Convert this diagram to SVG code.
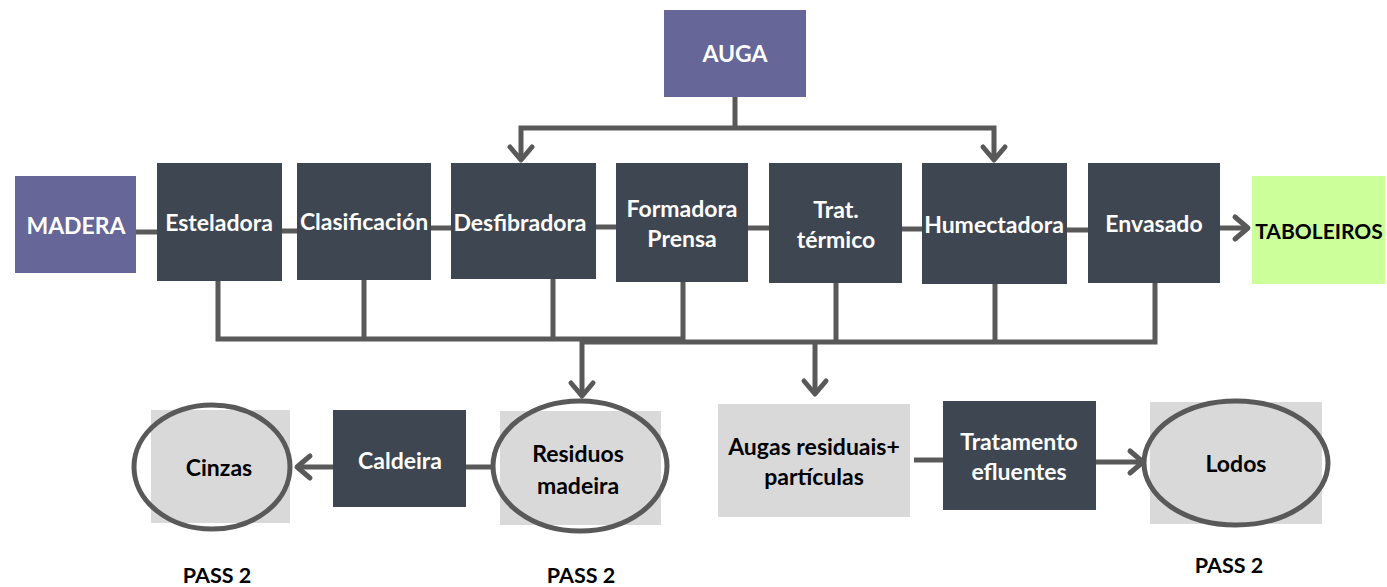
<svg xmlns="http://www.w3.org/2000/svg" width="1387" height="587" viewBox="0 0 1387 587">
  <style>
    .dark { fill: #3e4651; }
    .purple { fill: #666699; }
    .green { fill: #ccff99; }
    .grey { fill: #d9d9d9; }
    .ring { fill: none; stroke: #595959; stroke-width: 5; }
    .wire { fill: none; stroke: #595959; stroke-width: 5; stroke-linejoin: miter; }
    .arrow { marker-end: url(#chev); }
    text { font-family: Lato, "Liberation Sans", sans-serif; font-weight: bold; font-size: 23px; text-anchor: middle; dominant-baseline: central; }
    .w { fill: #ffffff; }
    .k { fill: #000000; }
    .pass { font-size: 21.5px; }
  </style>
  <defs>
    <marker id="chev" markerUnits="userSpaceOnUse" viewBox="-20 -16 24 32" markerWidth="24" markerHeight="32" refX="0" refY="0" orient="auto">
      <path d="M-13,-11 L0,0 L-13,11" fill="none" stroke="#595959" stroke-width="5" stroke-linecap="round" stroke-linejoin="round"/>
    </marker>
  </defs>

  <!-- connectors -->
  <g id="connectors">
    <!-- main process line -->
    <path class="wire" d="M136,232 H157"/>
    <path class="wire" d="M282,231 H297"/>
    <path class="wire" d="M431,228 H451"/>
    <path class="wire" d="M596,227 H616"/>
    <path class="wire" d="M748,228 H769"/>
    <path class="wire" d="M902,229 H922"/>
    <path class="wire" d="M1067,230 H1088"/>
    <path class="wire arrow" d="M1220,228 H1248"/>
    <!-- water supply -->
    <path class="wire" d="M735,97 V128"/>
    <path class="wire arrow" d="M735,128 H521 V160"/>
    <path class="wire arrow" d="M735,128 H994 V160"/>
    <!-- wood waste collector -->
    <path class="wire" d="M218,281 V339 H683 V282"/>
    <path class="wire" d="M364,280 V339"/>
    <path class="wire" d="M553,265 V339"/>
    <path class="wire arrow" d="M582,339 V396"/>
    <!-- waste water collector -->
    <path class="wire" d="M582,342 H1155 V283"/>
    <path class="wire" d="M836,283 V342"/>
    <path class="wire" d="M995,284 V342"/>
    <path class="wire arrow" d="M815,342 V394"/>
    <!-- lower row -->
    <path class="wire" d="M492,467 H466"/>
    <path class="wire arrow" d="M333,467 H297"/>
    <path class="wire" d="M914,460 H943"/>
    <path class="wire arrow" d="M1096,462 H1143"/>
  </g>

  <g id="auga">
    <rect class="purple" x="664" y="10" width="142" height="87"/>
    <text class="w" x="735" y="53">AUGA</text>
  </g>
  <g id="madera">
    <rect class="purple" x="15" y="176" width="121" height="97"/>
    <text class="w" x="76" y="225">MADERA</text>
  </g>
  <g id="esteladora">
    <rect class="dark" x="157" y="163" width="125" height="118"/>
    <text class="w" x="219" y="222">Esteladora</text>
  </g>
  <g id="clasificacion">
    <rect class="dark" x="297" y="163" width="134" height="117"/>
    <text class="w" x="364" y="221">Clasificación</text>
  </g>
  <g id="desfibradora">
    <rect class="dark" x="451" y="163" width="145" height="116"/>
    <text class="w" x="520" y="222">Desfibradora</text>
  </g>
  <g id="formadora">
    <rect class="dark" x="616" y="163" width="132" height="119"/>
    <text class="w" x="682" y="208">Formadora</text>
    <text class="w" x="682" y="238">Prensa</text>
  </g>
  <g id="trat-termico">
    <rect class="dark" x="769" y="163" width="133" height="120"/>
    <text class="w" x="836" y="209">Trat.</text>
    <text class="w" x="836" y="239">térmico</text>
  </g>
  <g id="humectadora">
    <rect class="dark" x="922" y="163" width="145" height="121"/>
    <text class="w" x="994" y="224">Humectadora</text>
  </g>
  <g id="envasado">
    <rect class="dark" x="1088" y="163" width="132" height="120"/>
    <text class="w" x="1154" y="223">Envasado</text>
  </g>
  <g id="taboleiros">
    <rect class="green" x="1252" y="176" width="133" height="108"/>
    <text class="k" x="1319" y="230" style="font-size:21px">TABOLEIROS</text>
  </g>

  <g id="cinzas">
    <rect class="grey" x="151" y="410" width="139" height="113"/>
    <ellipse class="ring" cx="212" cy="467" rx="78" ry="62"/>
    <text class="k" x="219" y="467">Cinzas</text>
  </g>
  <g id="caldeira">
    <rect class="dark" x="333" y="410" width="133" height="97"/>
    <text class="w" x="400" y="460">Caldeira</text>
  </g>
  <g id="residuos">
    <rect class="grey" x="500" y="411" width="161" height="114"/>
    <ellipse class="ring" cx="580" cy="466" rx="87" ry="65"/>
    <text class="k" x="578" y="453">Residuos</text>
    <text class="k" x="578" y="485">madeira</text>
  </g>
  <g id="augas-residuais">
    <rect class="grey" x="718" y="404" width="192" height="113"/>
    <text class="k" x="814" y="446">Augas residuais+</text>
    <text class="k" x="814" y="476">partículas</text>
  </g>
  <g id="tratamento">
    <rect class="dark" x="943" y="401" width="153" height="109"/>
    <text class="w" x="1019" y="441">Tratamento</text>
    <text class="w" x="1019" y="471">efluentes</text>
  </g>
  <g id="lodos">
    <rect class="grey" x="1150" y="402" width="172" height="122"/>
    <ellipse class="ring" cx="1236" cy="463" rx="92" ry="62"/>
    <text class="k" x="1236" y="463">Lodos</text>
  </g>

  <g id="pass-labels">
    <text class="k pass" x="217" y="575">PASS 2</text>
    <text class="k pass" x="581" y="575">PASS 2</text>
    <text class="k pass" x="1229" y="565">PASS 2</text>
  </g>
</svg>
